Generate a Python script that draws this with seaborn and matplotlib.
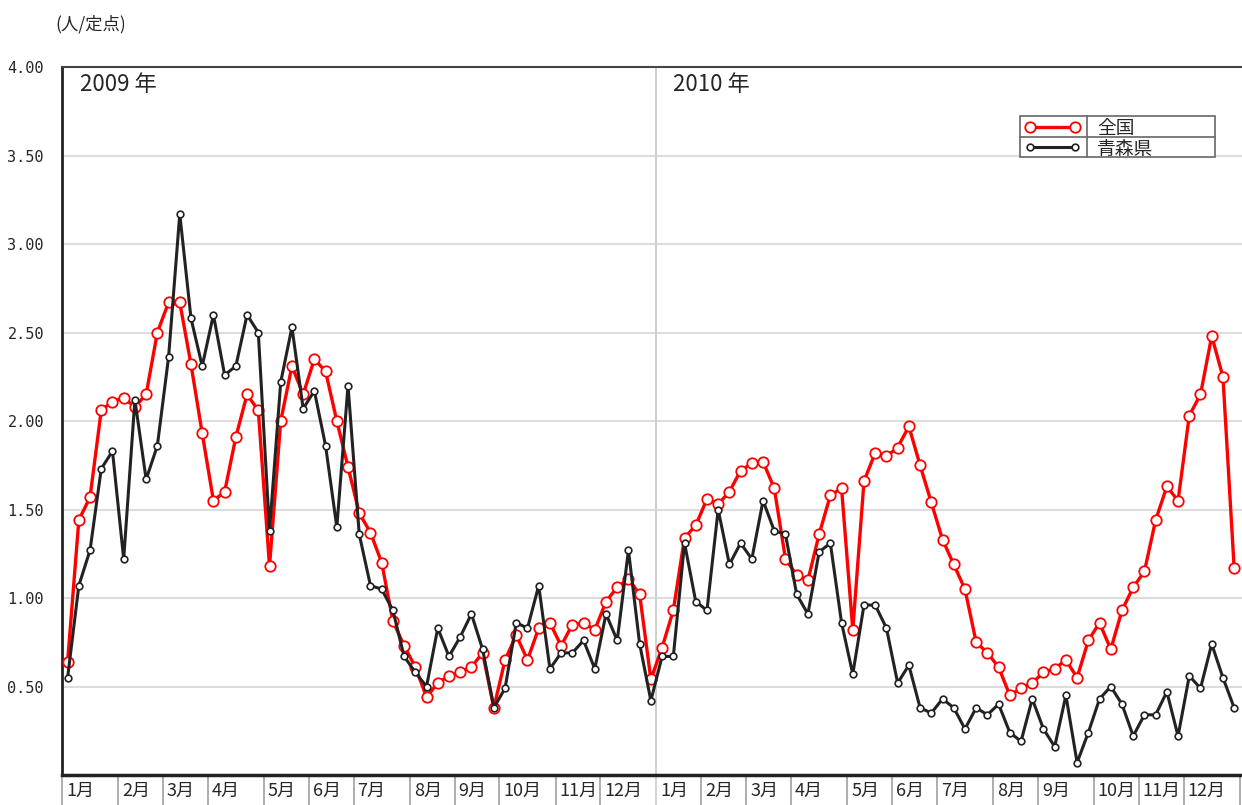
import numpy as np
import pandas as pd
import seaborn as sns
import matplotlib.pyplot as plt
from matplotlib.lines import Line2D
from matplotlib.patches import Rectangle

# weekly values (人/定点), 2009 week 1 .. 2010 week 52
national = [0.64, 1.44, 1.57, 2.06, 2.11, 2.13, 2.08, 2.15, 2.50, 2.67,
            2.67, 2.32, 1.93, 1.55, 1.60, 1.91, 2.15, 2.06, 1.18, 2.00,
            2.31, 2.15, 2.35, 2.28, 2.00, 1.74, 1.48, 1.37, 1.20, 0.87,
            0.73, 0.61, 0.44, 0.52, 0.56, 0.58, 0.61, 0.69, 0.38, 0.65,
            0.79, 0.65, 0.83, 0.86, 0.73, 0.85, 0.86, 0.82, 0.98, 1.06,
            1.11, 1.02, 0.54,
            0.72, 0.93, 1.34, 1.41, 1.56, 1.53, 1.60, 1.72, 1.76, 1.77,
            1.62, 1.22, 1.13, 1.10, 1.36, 1.58, 1.62, 0.82, 1.66, 1.82,
            1.80, 1.85, 1.97, 1.75, 1.54, 1.33, 1.19, 1.05, 0.75, 0.69,
            0.61, 0.45, 0.49, 0.52, 0.58, 0.60, 0.65, 0.55, 0.76, 0.86,
            0.71, 0.93, 1.06, 1.15, 1.44, 1.63, 1.55, 2.03, 2.15, 2.48,
            2.25, 1.17]
aomori = [0.55, 1.07, 1.27, 1.73, 1.83, 1.22, 2.12, 1.67, 1.86, 2.36,
          3.17, 2.58, 2.31, 2.60, 2.26, 2.31, 2.60, 2.50, 1.38, 2.22,
          2.53, 2.07, 2.17, 1.86, 1.40, 2.20, 1.36, 1.07, 1.05, 0.93,
          0.67, 0.58, 0.50, 0.83, 0.67, 0.78, 0.91, 0.71, 0.38, 0.49,
          0.86, 0.83, 1.07, 0.60, 0.69, 0.69, 0.76, 0.60, 0.91, 0.76,
          1.27, 0.74, 0.42,
          0.67, 0.67, 1.31, 0.98, 0.93, 1.50, 1.19, 1.31, 1.22, 1.55,
          1.38, 1.36, 1.02, 0.91, 1.26, 1.31, 0.86, 0.57, 0.96, 0.96,
          0.83, 0.52, 0.62, 0.38, 0.35, 0.43, 0.38, 0.26, 0.38, 0.34,
          0.40, 0.24, 0.19, 0.43, 0.26, 0.16, 0.45, 0.07, 0.24, 0.43,
          0.50, 0.40, 0.22, 0.34, 0.34, 0.47, 0.22, 0.56, 0.49, 0.74,
          0.55, 0.38]
weeks_per_month_2009 = [5, 4, 4, 5, 4, 4, 5, 4, 4, 5, 4, 5]
weeks_per_month_2010 = [4, 4, 4, 5, 4, 4, 5, 4, 5, 4, 4, 5]
month_labels = [f"{m}月" for m in range(1, 13)]
year_labels = ["2009 年", "2010 年"]
series_labels = ["全国", "青森県"]
yticks = [0.5, 1.0, 1.5, 2.0, 2.5, 3.0, 3.5, 4.0]

sns.set_style("white")
plt.rcParams["font.family"] = ["Noto Sans CJK JP", "DejaVu Sans"]

week = np.arange(len(national))
df = pd.DataFrame({"week": week, "全国": national, "青森県": aomori})

fig = plt.figure(figsize=(12.42, 8.05), dpi=100)
ax = fig.add_axes([62 / 1242, 30 / 805, 1180 / 1242, 708 / 805])

red = "#ff0000"
dark = "#222222"
sns.lineplot(data=df, x="week", y="全国", ax=ax, color=red, lw=2.4,
             marker="o", markersize=7.5, markerfacecolor="white",
             markeredgecolor=red, markeredgewidth=1.3, zorder=3)
sns.lineplot(data=df, x="week", y="青森県", ax=ax, color=dark, lw=2.2,
             marker="o", markersize=4.8, markerfacecolor="white",
             markeredgecolor=dark, markeredgewidth=1.2, zorder=4)

ax.set_xlim(-0.5, 104.7)
ax.set_ylim(0, 4)
ax.set_xlabel("")
ax.set_ylabel("")

ax.set_yticks(yticks)
ax.set_yticklabels([f"{v:.2f}" for v in yticks], family="DejaVu Sans Mono", fontsize=11)
ax.yaxis.grid(True, color="#dddddd", lw=1.5)
ax.set_axisbelow(True)
ax.tick_params(axis="y", direction="out", length=5, width=1.2, pad=8, color="#333333")
ax.set_xticks(week)
ax.set_xticklabels([])
ax.tick_params(axis="x", direction="in", length=4, width=1, color="#333333")

ax.spines["right"].set_visible(False)
ax.spines["top"].set_color("#444444")
ax.spines["top"].set_linewidth(1.5)
ax.spines["left"].set_color(dark)
ax.spines["left"].set_linewidth(2)
ax.spines["bottom"].set_color(dark)
ax.spines["bottom"].set_linewidth(2.5)

# year divider and month boxes under the axis
n09 = sum(weeks_per_month_2009)
ax.axvline(n09 - 0.5, color="#cccccc", lw=1.3, zorder=1)
xt = ax.get_xaxis_transform()
starts = -0.5 + np.concatenate([[0], np.cumsum(weeks_per_month_2009 + weeks_per_month_2010)])
for b in starts:
    c = "#cccccc" if b == n09 - 0.5 else "#a0a0a0"
    ax.vlines(b, -0.05, 0, transform=xt, clip_on=False, color=c, lw=1.2)
for s, lab in zip(starts[:-1], month_labels * 2):
    ax.text(s + 0.35, -0.022, lab, transform=xt, ha="left", va="center", fontsize=13)

# year captions
ax.text(1.1, 3.9, year_labels[0], ha="left", va="center", fontsize=16)
ax.text(n09 + 1.0, 3.9, year_labels[1], ha="left", va="center", fontsize=16)

fig.text(55 / 1242, 1 - 24 / 805, "(人/定点)", ha="left", va="center", fontsize=12.5)

# table-style legend
x0, xd, x1 = 0.8119, 0.8686, 0.9771
yt, ym, yb = 0.9308, 0.9011, 0.8729
ax.add_patch(Rectangle((x0, yb), x1 - x0, yt - yb, transform=ax.transAxes,
                       facecolor="white", edgecolor="#666666", lw=1.2, zorder=6))
ax.add_line(Line2D([xd, xd], [yb, yt], transform=ax.transAxes, color="#666666", lw=1.2, zorder=7))
ax.add_line(Line2D([x0, x1], [ym, ym], transform=ax.transAxes, color="#666666", lw=1.2, zorder=7))
styles = [(red, 2.4, 7.5, 1.3), (dark, 2.2, 4.8, 1.2)]
for (c, lw, ms, mew), lab, yc in zip(styles, series_labels, [(yt + ym) / 2, (ym + yb) / 2]):
    ax.add_line(Line2D([0.8203, 0.8585], [yc, yc], transform=ax.transAxes, color=c, lw=lw,
                       marker="o", markersize=ms, markerfacecolor="white",
                       markeredgecolor=c, markeredgewidth=mew, zorder=8))
    ax.text(0.877, yc - 0.003, lab, transform=ax.transAxes, ha="left", va="center",
            fontsize=13.5, zorder=8)

fig.savefig("out.png", dpi=100)
